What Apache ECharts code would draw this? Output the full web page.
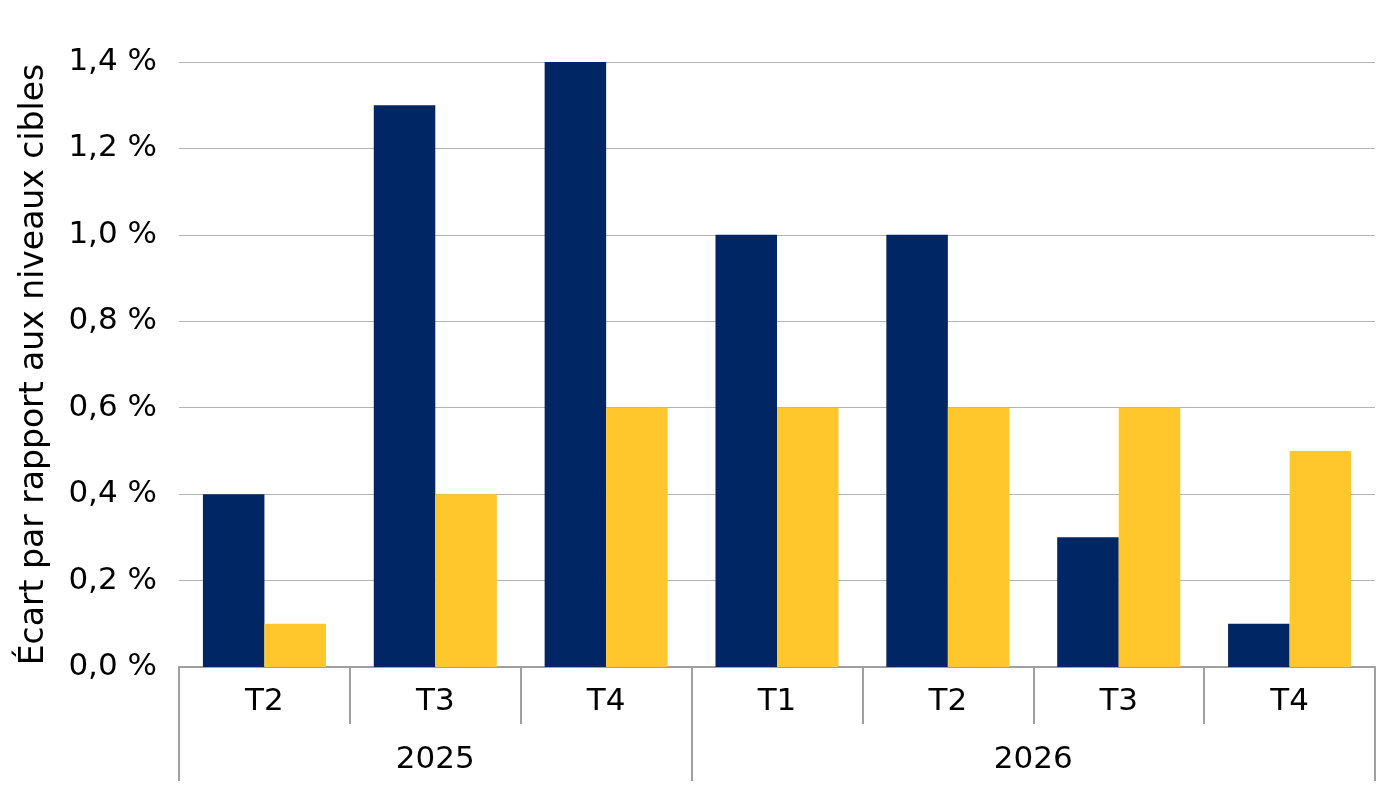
<!DOCTYPE html>
<html>
<head>
<meta charset="utf-8">
<script src="https://cdn.jsdelivr.net/npm/echarts@6/dist/echarts.min.js"></script>
<style>
  html, body { margin: 0; padding: 0; background: #fff; }
  #chart { width: 1380px; height: 800px; }
</style>
</head>
<body>
<div id="chart"></div>
<script>
// données
var quarters = ['T2', 'T3', 'T4', 'T1', 'T2', 'T3', 'T4'];
var years = ['2025', '2026'];
var yearSizes = [3, 4]; // nombre de trimestres par année
var seriesNavy = [0.4, 1.3, 1.4, 1.0, 1.0, 0.3, 0.1];
var seriesGold = [0.1, 0.4, 0.6, 0.6, 0.6, 0.6, 0.5];
var yTicks = [0, 0.2, 0.4, 0.6, 0.8, 1.0, 1.2, 1.4];

var font = 'DejaVu Sans';

// bornes et centres des groupes d'années
var bounds = [0], centers = [];
yearSizes.forEach(function (n) {
  var start = bounds[bounds.length - 1];
  bounds.push(start + n);
  centers.push(start + n / 2);
});

var myChart = echarts.init(document.getElementById('chart'));

var option = {
  animation: false,
  grid: { left: 179, right: 5, top: 62, bottom: 133, outerBoundsMode: 'none' },
  xAxis: [
    {
      type: 'category',
      data: quarters,
      axisLine: { lineStyle: { color: '#a0a0a0', width: 2 } },
      axisTick: { show: true, interval: 0, length: 57, lineStyle: { color: '#a0a0a0', width: 2 } },
      axisLabel: { color: '#000', fontFamily: font, fontSize: 31, margin: 19 }
    },
    {
      type: 'value',
      position: 'bottom',
      min: 0,
      max: quarters.length,
      splitLine: { show: false },
      axisLine: { show: false },
      axisTick: {
        show: true,
        customValues: bounds,
        length: 114,
        lineStyle: { color: '#a0a0a0', width: 2 }
      },
      axisLabel: {
        customValues: centers,
        color: '#000',
        fontFamily: font,
        fontSize: 31,
        margin: 77,
        formatter: function (v) {
          return years[centers.indexOf(v)] || '';
        }
      }
    }
  ],
  yAxis: {
    type: 'value',
    min: yTicks[0],
    max: yTicks[yTicks.length - 1],
    interval: 0.2,
    name: 'Écart par rapport aux niveaux cibles',
    nameLocation: 'middle',
    nameGap: 128,
    nameTextStyle: { color: '#000', fontFamily: font, fontSize: 33 },
    axisLine: { show: false },
    axisTick: { show: false },
    splitLine: { lineStyle: { color: '#b4b4b4', width: 1 } },
    axisLabel: {
      color: '#000',
      fontFamily: font,
      fontSize: 31,
      margin: 22,
      formatter: function (v) {
        return v.toFixed(1).replace('.', ',') + ' %';
      }
    }
  },
  series: [
    {
      type: 'bar',
      data: seriesNavy,
      barGap: '0%',
      barCategoryGap: '28%',
      itemStyle: { color: '#002663' }
    },
    {
      type: 'bar',
      data: seriesGold,
      itemStyle: { color: '#ffc72c' }
    }
  ]
};

myChart.setOption(option);
</script>
</body>
</html>
